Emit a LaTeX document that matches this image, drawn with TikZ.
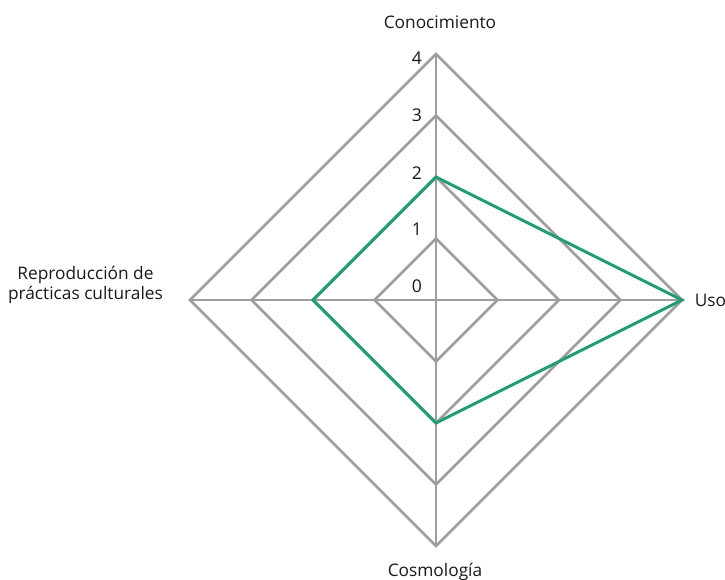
\documentclass[tikz,border=0pt]{standalone}
\usepackage{fontspec}
\setmainfont{Open Sans}
\usetikzlibrary{positioning}
\definecolor{ringgray}{RGB}{158,158,160}
\definecolor{seriesgreen}{RGB}{36,158,112}
\tikzset{
  ring/.style={draw=ringgray,line width=1.8pt,line join=miter},
  series/.style={draw=seriesgreen,line width=2.1pt,line join=miter},
  axislabel/.style={font=\fontsize{12.3}{14.5}\selectfont,text=black!90},
  ticklabel/.style={font=\fontsize{12.5}{14}\selectfont,text=black!90,anchor=east,inner sep=1pt}
}

\begin{document}
\begin{tikzpicture}[x=1.5375cm,y=1.5375cm]
\useasboundingbox (-7.089,-4.537) rectangle (4.699,4.878);
% rings
\draw[ring] (0,1) -- (1,0) -- (0,-1) -- (-1,0) -- cycle;
\draw[ring] (0,2) -- (2,0) -- (0,-2) -- (-2,0) -- cycle;
\draw[ring] (0,3) -- (3,0) -- (0,-3) -- (-3,0) -- cycle;
\draw[ring] (0,4) -- (4,0) -- (0,-4) -- (-4,0) -- cycle;
% spokes
\draw[ring] (0,4) -- (0,-4);
\draw[ring] (-4,0) -- (4,0);
% data
\draw[series] (0,2) -- (4,0) -- (0,-2) -- (-2,0) -- cycle;

\node[ticklabel] (t4) at (-0.2,3.93) {4};
\node[ticklabel] (t3) at (-0.2,3.0) {3};
\node[ticklabel] (t2) at (-0.2,2.07) {2};
\node[ticklabel] (t1) at (-0.2,1.15) {1};
\node[ticklabel] (t0) at (-0.2,0.23) {0};

\node[axislabel] (conoc) at (0.065,4.52) {Conocimiento};
\node[axislabel,anchor=west,inner sep=1pt] (uso) at (4.18,0) {Uso};
\node[axislabel] (cosmo) at (-0.016,-4.42) {Cosmología};
\node[axislabel,anchor=east,align=center] (repro) at (-4.36,0.24) {Reproducción de\\prácticas culturales};
\end{tikzpicture}
\end{document}
